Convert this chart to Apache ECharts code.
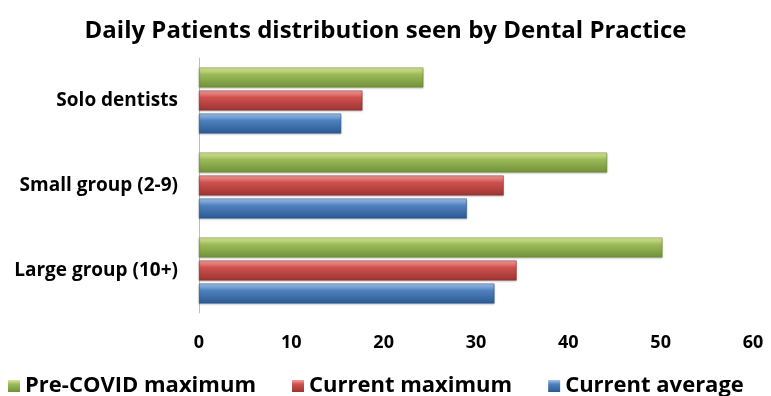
<!DOCTYPE html>
<html>
<head>
<meta charset="utf-8">
<script src="https://cdn.jsdelivr.net/npm/echarts@6/dist/echarts.min.js"></script>
<style>
  html, body { margin: 0; padding: 0; background: #fff; }
  #chart1 { width: 771px; height: 396px; }
</style>
</head>
<body>
<div id="chart1"></div>
<script>
// data
var categories = ['Solo dentists', 'Small group (2-9)', 'Large group (10+)'];
var seriesNames = ['Pre-COVID maximum', 'Current maximum', 'Current average'];
var preCovidMax = [24.3, 44.2, 50.2];
var currentMax = [17.7, 33.0, 34.4];
var currentAvg = [15.4, 29.0, 32.0];

var fontFam = 'Open Sans';

function grad(top, mid, bottom) {
	return new echarts.graphic.LinearGradient(0, 0, 0, 1, [
		{ offset: 0, color: top },
		{ offset: 0.35, color: mid },
		{ offset: 1, color: bottom }
	]);
}

var colors = [
	grad('#dde99c', '#9bbb59', '#71903a'),
	grad('#f4a09e', '#d0504d', '#9a3532'),
	grad('#a3c4ec', '#4f81bd', '#2b5a92')
];
var borders = ['#6f8c37', '#8c2f2d', '#2a568c'];

function makeSeries(name, data, i) {
	return {
		name: name,
		type: 'bar',
		data: data,
		barWidth: 20,
		barGap: '15%',
		itemStyle: {
			color: colors[i],
			borderColor: borders[i],
			borderWidth: 0.5,
			shadowColor: 'rgba(0,0,0,0.25)',
			shadowBlur: 2,
			shadowOffsetY: 1
		}
	};
}

var chart = echarts.init(document.getElementById('chart1'));
chart.setOption({
	animation: false,
	title: {
		text: 'Daily Patients distribution seen by Dental Practice',
		left: 'center',
		top: 14,
		textStyle: {
			fontFamily: fontFam,
			fontSize: 24,
			fontWeight: 'bold',
			color: '#000'
		}
	},
	legend: {
		top: 370,
		left: 3,
		itemWidth: 12,
		itemHeight: 12,
		itemGap: 36,
		itemStyle: { borderWidth: 0 },
		icon: 'rect',
		data: seriesNames,
		textStyle: {
			fontFamily: fontFam,
			fontSize: 22,
			fontWeight: 'bold',
			color: '#000'
		}
	},
	grid: {
		left: 199,
		right: 18,
		top: 58,
		bottom: 83,
		containLabel: false
	},
	xAxis: {
		type: 'value',
		min: 0,
		max: 60,
		interval: 10,
		axisLine: { show: false },
		axisTick: { show: false },
		splitLine: { show: false },
		axisLabel: {
			margin: 21,
			fontFamily: fontFam,
			fontSize: 18,
			fontWeight: 'bold',
			color: '#000'
		}
	},
	yAxis: {
		type: 'category',
		data: categories,
		inverse: true,
		axisLine: { show: true, lineStyle: { color: '#bfbfbf', width: 1 } },
		axisTick: { show: false },
		axisLabel: {
			margin: 21,
			fontFamily: fontFam,
			fontSize: 19,
			fontWeight: 'bold',
			color: '#000'
		}
	},
	series: [
		makeSeries(seriesNames[0], preCovidMax, 0),
		makeSeries(seriesNames[1], currentMax, 1),
		makeSeries(seriesNames[2], currentAvg, 2)
	]
});
</script>
</body>
</html>
